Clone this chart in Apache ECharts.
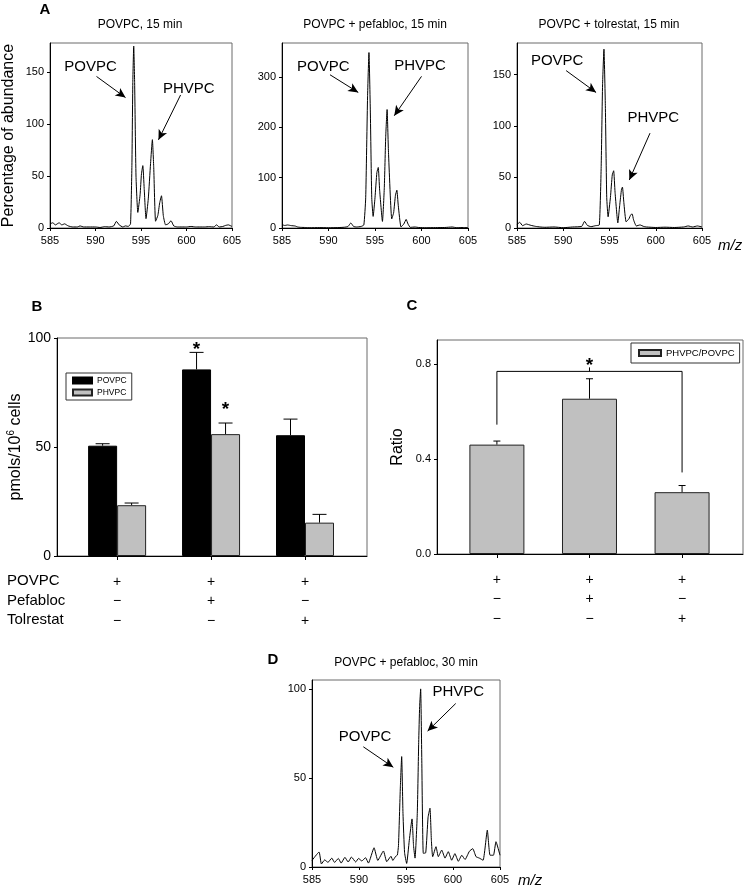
<!DOCTYPE html>
<html>
<head>
<meta charset="utf-8">
<script src="https://cdn.jsdelivr.net/npm/echarts@6/dist/echarts.min.js"></script>
<style>
  html, body { margin: 0; padding: 0; background: #fff; }
  #chart { width: 747px; height: 889px; }
</style>
</head>
<body>
<div id="chart"></div>
<script>
// spectra: [m/z, percentage of abundance]
var spec15 = [[585.0,4],[585.3,5],[585.6,3],[586.0,5],[586.3,3],[586.6,4],[587.0,2],[587.5,1],[588.0,1],[588.3,2],[588.7,1],[589.3,1],[590.0,1],[590.5,0.5],[591.0,1.3],[591.5,1],[592.0,2],[592.3,6.4],[592.6,3],[593.0,1],[593.3,2],[593.6,1.5],[593.85,4],[594.0,60],[594.1,140],[594.2,175],[594.3,140],[594.45,50],[594.65,15],[594.9,32],[595.05,52],[595.2,60],[595.35,38],[595.55,9],[595.8,28],[596.05,62],[596.25,85],[596.4,58],[596.6,6.5],[596.85,12],[597.05,24],[597.25,31],[597.45,12],[597.7,3],[598.0,4],[598.3,7],[598.6,2],[599.0,1],[599.5,1],[600.0,1],[600.5,1.5],[601.0,1],[601.5,1],[602.0,1],[602.5,1.3],[603.0,1],[603.3,3],[603.6,1],[604.0,1.5],[604.3,2.5],[604.6,3],[605.0,1.5]];
var specPefa15 = [[585.0,6.7],[585.3,5],[585.6,6],[586.0,4.7],[586.4,4],[586.7,2],[587.0,1.3],[587.5,1],[588.0,0.5],[589.0,0.8],[590.0,0.5],[591.0,0.8],[591.7,1.5],[592.1,3],[592.4,10],[592.7,3],[593.0,2],[593.5,3],[593.8,6],[594.0,60],[594.2,260],[594.35,348],[594.5,230],[594.65,60],[594.8,23],[595.0,60],[595.2,110],[595.35,120],[595.5,75],[595.8,13],[596.0,80],[596.15,180],[596.3,235],[596.45,150],[596.8,18],[597.0,30],[597.2,65],[597.35,75],[597.5,45],[597.8,2],[598.1,8],[598.35,17],[598.55,8],[598.8,1.3],[599.3,2],[599.7,1],[600.5,0.5],[601.5,0.8],[602.5,1],[603.3,2],[603.8,0.5],[604.5,1],[605.0,0.5]];
var specTol15 = [[585.0,3.3],[585.3,5.6],[585.6,2.3],[586.0,3.9],[586.5,2.6],[587.0,1.6],[587.5,1],[588.0,0.7],[589.0,1],[590.0,0.3],[591.0,1],[592.0,1.6],[592.3,6.5],[592.6,2.6],[593.0,1.3],[593.5,2.3],[593.9,3],[594.1,60],[594.25,140],[594.4,175],[594.55,120],[594.7,30],[594.85,11],[595.1,30],[595.3,52],[595.45,56],[595.6,35],[595.9,5],[596.1,22],[596.3,38],[596.4,40],[596.55,25],[596.8,6],[597.1,9],[597.3,13],[597.45,13.7],[597.6,8],[597.9,2],[598.3,3],[598.7,1.5],[599.0,1],[600.0,0.5],[601.0,0.8],[602.0,0.5],[603.0,1],[603.5,2],[604.0,1],[604.5,2],[605.0,1]];
var specPefa30 = [[585.0,3.7],[585.75,8.4],[586.0,1.7],[586.35,4],[586.7,2.6],[587.1,5],[587.4,2.6],[587.8,4.8],[588.1,2.2],[588.5,5.4],[588.85,2.8],[589.2,5.6],[589.65,2.8],[589.95,4.8],[590.3,3.4],[590.7,5.2],[591.0,2.2],[591.6,10.8],[592.0,3.7],[592.6,9],[592.95,3],[593.4,6],[593.6,3.7],[593.9,6],[594.08,6.7],[594.2,12],[594.4,45],[594.54,62],[594.68,30],[594.85,8],[595.07,2],[595.35,15],[595.64,27],[595.8,12],[595.96,5],[596.2,30],[596.35,70],[596.45,90],[596.56,100],[596.68,60],[596.84,7.7],[597.1,8],[597.35,28],[597.55,33],[597.7,15],[597.84,5.8],[598.19,11.4],[598.44,5.8],[598.8,9.5],[599.15,5],[599.5,8.6],[599.86,3.8],[600.2,7.5],[600.57,3.2],[600.93,6.6],[601.28,4.2],[601.74,8.8],[602.1,10.3],[602.45,5.8],[602.8,5],[603.2,3.8],[603.65,20.7],[603.94,6.6],[604.3,6.6],[604.57,14.2],[605.0,6.6]];

// panel B / C data (groups 1..3)
var groupPos = [1, 2, 3];
var povpc = [50.6, 85.6, 55.4];
var povpcErr = [0.9, 7.8, 7.4];
var phvpc = [23.3, 55.9, 15.3];
var phvpcErr = [1.0, 5.1, 3.8];
var sigPovpc = ['', '*', ''];
var sigPhvpc = ['', '*', ''];
var ratio = [0.46, 0.653, 0.26];
var ratioErr = [0.015, 0.084, 0.028];
var rowPovpc = ['+', '+', '+'];
var rowPefabloc = ['\u2212', '+', '\u2212'];
var rowTolrestat = ['\u2212', '\u2212', '+'];
// C significance bracket: from group, to group, level, left end, right end
var bracketC = [[1, 3, 0.768, 0.544, 0.343]];

var mzTicks = [585, 590, 595, 600, 605];
var FONT = 'Liberation Sans, Arial, sans-serif';

var chart = echarts.init(document.getElementById('chart'), null, { renderer: 'canvas' });

var grids = [
  { left: 48, top: 43, width: 184, height: 185 },
  { left: 282, top: 43, width: 186, height: 185 },
  { left: 517, top: 43, width: 185, height: 185 },
  { left: 57, top: 338, width: 310, height: 218 },
  { left: 437, top: 340, width: 306, height: 214 },
  { left: 312, top: 680, width: 188, height: 187 }
];
grids.forEach(function (g) {
  g.show = true; g.borderColor = '#6a6a6a'; g.borderWidth = 1; g.backgroundColor = 'transparent';
});

function mzAxis(gi, withName, nameGap, namePad) {
  var ax = {
    type: 'value', gridIndex: gi, min: 585, max: 605, interval: 5,
    axisLine: { show: true, onZero: false, lineStyle: { color: '#000', width: 1 } },
    axisTick: { show: true, length: 3, lineStyle: { color: '#000' } },
    axisLabel: { fontSize: 11, color: '#000', margin: 7, fontFamily: FONT },
    splitLine: { show: false }
  };
  if (withName) {
    ax.name = 'm/z';
    ax.nameLocation = 'end';
    ax.nameGap = nameGap;
    ax.nameTextStyle = { fontSize: 15, fontStyle: 'italic', color: '#000', fontFamily: FONT,
      verticalAlign: 'top', padding: [namePad, 0, 0, 0] };
  }
  return ax;
}
function abAxis(gi, max, ticks, name) {
  var ax = {
    type: 'value', gridIndex: gi, min: 0, max: max,
    axisLine: { show: true, onZero: false, lineStyle: { color: '#000', width: 1 } },
    axisTick: { show: true, length: 3, customValues: ticks, lineStyle: { color: '#000' } },
    axisLabel: { fontSize: 11, color: '#000', margin: 6, customValues: ticks, fontFamily: FONT },
    splitLine: { show: false }
  };
  if (name) {
    ax.name = name;
    ax.nameLocation = 'middle';
    ax.nameGap = 33;
    ax.nameTextStyle = { fontSize: 16, color: '#000', fontFamily: FONT };
  }
  return ax;
}
function rowLabel(v) {
  var i = Math.round(v) - 1;
  return rowPovpc[i] + '\n' + rowPefabloc[i] + '\n' + rowTolrestat[i];
}
function groupAxis(gi, min, max) {
  return {
    type: 'value', gridIndex: gi, min: min, max: max,
    axisLine: { show: true, onZero: false, lineStyle: { color: '#000', width: 1 } },
    axisTick: { show: true, length: 4, customValues: groupPos, lineStyle: { color: '#000' } },
    axisLabel: { customValues: groupPos, formatter: rowLabel, fontSize: 14, lineHeight: 19.5,
      margin: 16, color: '#000', fontFamily: FONT },
    splitLine: { show: false }
  };
}

function spectrum(name, data, gi, notes) {
  return {
    name: name, type: 'line', xAxisIndex: gi, yAxisIndex: gi, data: data,
    showSymbol: false, symbol: 'none', smooth: 0.15, silent: true,
    lineStyle: { color: '#000', width: 1 },
    markLine: {
      silent: true, symbol: ['none', 'arrow'], symbolSize: [7, 10],
      lineStyle: { color: '#000', width: 1, type: 'solid' }, label: { show: false },
      data: notes.arrows.map(function (a) { return [{ coord: a[0] }, { coord: a[1] }]; })
    },
    markPoint: {
      silent: true, symbol: 'rect', symbolSize: 1, itemStyle: { color: 'rgba(0,0,0,0)' },
      label: { show: true, position: 'inside', color: '#000', fontSize: 15, fontFamily: FONT, formatter: '{b}' },
      data: notes.labels.map(function (l) { return { name: l[0], coord: l[1] }; })
    }
  };
}

function errorBars(means, errs, sig, gi, offset, cap, starGap) {
  return {
    type: 'custom', xAxisIndex: gi, yAxisIndex: gi, silent: true, z: 5,
    encode: { x: 0, y: [1, 2] },
    data: means.map(function (m, i) { return [groupPos[i], m, m + errs[i], sig ? sig[i] : '']; }),
    renderItem: function (params, api) {
      var base = api.coord([api.value(0), api.value(1)]);
      var top = api.coord([api.value(0), api.value(2)]);
      var x = base[0] + offset;
      var kids = [
        { type: 'line', shape: { x1: x, y1: base[1], x2: x, y2: top[1] }, style: { stroke: '#000', lineWidth: 1 } },
        { type: 'line', shape: { x1: x - cap / 2, y1: top[1], x2: x + cap / 2, y2: top[1] }, style: { stroke: '#000', lineWidth: 1 } }
      ];
      var s = api.value(3);
      if (s) {
        kids.push({ type: 'text', x: x, y: top[1] - starGap,
          style: { text: s, font: 'bold 19px ' + FONT, fill: '#000', align: 'center', verticalAlign: 'middle' } });
      }
      return { type: 'group', children: kids };
    }
  };
}

var option = {
  animation: false,
  backgroundColor: '#fff',
  textStyle: { fontFamily: FONT },
  grid: grids,
  xAxis: [
    mzAxis(0), mzAxis(1), mzAxis(2, true, 16, 10),
    groupAxis(3, 0.36, 3.66), groupAxis(4, 0.353, 3.658),
    mzAxis(5, true, 18, 6)
  ],
  yAxis: [
    abAxis(0, 178, [0, 50, 100, 150], 'Percentage of abundance'),
    abAxis(1, 367, [0, 100, 200, 300]),
    abAxis(2, 181, [0, 50, 100, 150]),
    {
      type: 'value', gridIndex: 3, min: 0, max: 100, interval: 50,
      axisLine: { show: true, lineStyle: { color: '#000' } },
      axisTick: { show: true, length: 3, lineStyle: { color: '#000' } },
      axisLabel: { fontSize: 14, color: '#000', margin: 6, fontFamily: FONT },
      splitLine: { show: false },
      name: 'pmols/10{sup|6} cells', nameLocation: 'middle', nameGap: 30,
      nameTextStyle: { fontSize: 16, color: '#000', fontFamily: FONT,
        rich: { sup: { fontSize: 10, verticalAlign: 'top', padding: [0, 0, 8, 0], color: '#000' } } }
    },
    {
      type: 'value', gridIndex: 4, min: 0, max: 0.9,
      axisLine: { show: true, lineStyle: { color: '#000' } },
      axisTick: { show: true, length: 3, customValues: [0, 0.4, 0.8], lineStyle: { color: '#000' } },
      axisLabel: { fontSize: 11, color: '#000', margin: 6, customValues: [0, 0.4, 0.8], fontFamily: FONT,
        formatter: function (v) { return v.toFixed(1); } },
      splitLine: { show: false },
      name: 'Ratio', nameLocation: 'middle', nameGap: 31,
      nameTextStyle: { fontSize: 16, color: '#000', fontFamily: FONT }
    },
    abAxis(5, 105, [0, 50, 100])
  ],
  legend: [
    {
      data: ['POVPC', 'PHVPC'], left: 66, top: 373, orient: 'vertical',
      itemWidth: 19, itemHeight: 6, itemGap: 3, padding: [3, 5, 3, 6],
      borderColor: '#333', borderWidth: 1, icon: 'rect',
      textStyle: { fontSize: 8.5, color: '#000', fontFamily: FONT }, selectedMode: false
    },
    {
      data: ['PHVPC/POVPC'], left: 631, top: 343, orient: 'vertical',
      itemWidth: 22, itemHeight: 6, padding: [5, 5, 5, 7],
      borderColor: '#333', borderWidth: 1, icon: 'rect',
      textStyle: { fontSize: 9.5, color: '#000', fontFamily: FONT }, selectedMode: false
    }
  ],
  series: [
    spectrum('POVPC, 15 min', spec15, 0, {
      arrows: [[[590.11, 145.8], [593.3, 125.5]], [[599.35, 128], [596.92, 84.8]]],
      labels: [['POVPC', [589.46, 155.4]], ['PHVPC', [600.25, 133.6]]]
    }),
    spectrum('POVPC + pefabloc, 15 min', specPefa15, 1, {
      arrows: [[[590.16, 304], [593.2, 269]], [[600.0, 300.8], [597.07, 222.7]]],
      labels: [['POVPC', [589.44, 319.5]], ['PHVPC', [599.84, 320.7]]]
    }),
    spectrum('POVPC + tolrestat, 15 min', specTol15, 2, {
      arrows: [[[590.31, 154], [593.55, 132.6]], [[599.38, 92.8], [597.14, 47]]],
      labels: [['POVPC', [589.34, 163.7]], ['PHVPC', [599.74, 107.5]]]
    }),
    {
      name: 'POVPC', type: 'bar', xAxisIndex: 3, yAxisIndex: 3, barWidth: 29, barGap: '0%',
      data: povpc.map(function (v, i) { return [groupPos[i], v]; }),
      itemStyle: { color: '#000', borderColor: '#000', borderWidth: 1 }, silent: true
    },
    {
      name: 'PHVPC', type: 'bar', xAxisIndex: 3, yAxisIndex: 3, barWidth: 29, barGap: '0%',
      data: phvpc.map(function (v, i) { return [groupPos[i], v]; }),
      itemStyle: { color: '#c0c0c0', borderColor: '#222', borderWidth: 1 }, silent: true
    },
    errorBars(povpc, povpcErr, sigPovpc, 3, -14.5, 14, 3),
    errorBars(phvpc, phvpcErr, sigPhvpc, 3, 14.5, 14, 13),
    {
      name: 'PHVPC/POVPC', type: 'bar', xAxisIndex: 4, yAxisIndex: 4, barWidth: 55,
      data: ratio.map(function (v, i) { return [groupPos[i], v]; }),
      itemStyle: { color: '#c0c0c0', borderColor: '#222', borderWidth: 1 }, silent: true
    },
    errorBars(ratio, ratioErr, null, 4, 0, 7, 0),
    {
      type: 'custom', xAxisIndex: 4, yAxisIndex: 4, silent: true, z: 6,
      encode: { x: [0, 1], y: [2, 3, 4] },
      data: bracketC,
      renderItem: function (params, api) {
        var l = api.coord([api.value(0), api.value(2)]);
        var r = api.coord([api.value(1), api.value(2)]);
        var lb = api.coord([api.value(0), api.value(3)]);
        var rb = api.coord([api.value(1), api.value(4)]);
        var mid = (l[0] + r[0]) / 2;
        return { type: 'group', children: [
          { type: 'polyline', shape: { points: [lb, l, r, rb] }, style: { stroke: '#000', fill: null, lineWidth: 1 } },
          { type: 'line', shape: { x1: mid, y1: l[1], x2: mid, y2: l[1] - 4 }, style: { stroke: '#000', lineWidth: 1 } },
          { type: 'text', x: mid, y: l[1] - 6, style: { text: '*', font: 'bold 19px ' + FONT, fill: '#000', align: 'center', verticalAlign: 'middle' } }
        ] };
      }
    },
    spectrum('POVPC + pefabloc, 30 min', specPefa30, 5, {
      arrows: [[[590.46, 67.5], [593.65, 56]], [[600.29, 91.8], [597.3, 76.3]]],
      labels: [['POVPC', [590.64, 73]], ['PHVPC', [600.56, 98.3]]]
    })
  ],
  graphic: [
    { type: 'text', x: 45, y: 10, style: { text: 'A', font: 'bold 15px ' + FONT, fill: '#000', align: 'center', verticalAlign: 'middle' } },
    { type: 'text', x: 37, y: 307, style: { text: 'B', font: 'bold 15px ' + FONT, fill: '#000', align: 'center', verticalAlign: 'middle' } },
    { type: 'text', x: 412, y: 306, style: { text: 'C', font: 'bold 15px ' + FONT, fill: '#000', align: 'center', verticalAlign: 'middle' } },
    { type: 'text', x: 273, y: 660, style: { text: 'D', font: 'bold 15px ' + FONT, fill: '#000', align: 'center', verticalAlign: 'middle' } },
    { type: 'text', x: 140, y: 25, style: { text: 'POVPC, 15 min', font: '12px ' + FONT, fill: '#000', align: 'center', verticalAlign: 'middle' } },
    { type: 'text', x: 375, y: 25, style: { text: 'POVPC + pefabloc, 15 min', font: '12px ' + FONT, fill: '#000', align: 'center', verticalAlign: 'middle' } },
    { type: 'text', x: 609, y: 25, style: { text: 'POVPC + tolrestat, 15 min', font: '12px ' + FONT, fill: '#000', align: 'center', verticalAlign: 'middle' } },
    { type: 'text', x: 406, y: 663, style: { text: 'POVPC + pefabloc, 30 min', font: '12px ' + FONT, fill: '#000', align: 'center', verticalAlign: 'middle' } },
    { type: 'text', x: 7, y: 581, style: { text: 'POVPC', font: '15px ' + FONT, fill: '#000', align: 'left', verticalAlign: 'middle' } },
    { type: 'text', x: 7, y: 600.5, style: { text: 'Pefabloc', font: '15px ' + FONT, fill: '#000', align: 'left', verticalAlign: 'middle' } },
    { type: 'text', x: 7, y: 620, style: { text: 'Tolrestat', font: '15px ' + FONT, fill: '#000', align: 'left', verticalAlign: 'middle' } }
  ]
};

chart.setOption(option);
</script>
</body>
</html>
